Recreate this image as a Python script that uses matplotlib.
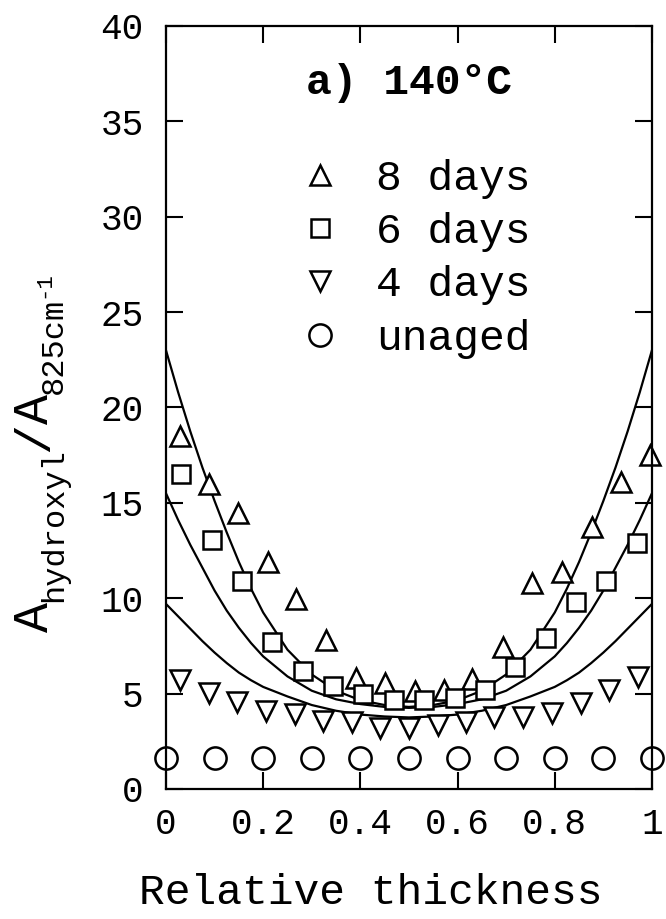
import matplotlib
matplotlib.use('Agg')  # no display
import matplotlib.pyplot as plt
from matplotlib.lines import Line2D

# measured ratio A_hydroxyl / A_825cm-1 across the relative thickness
x_8d = [0.029, 0.089, 0.149, 0.209, 0.268, 0.329, 0.391, 0.451, 0.512,
        0.572, 0.630, 0.694, 0.754, 0.814, 0.876, 0.936, 0.996]
y_8d = [18.5, 16.0, 14.45, 11.9, 9.95, 7.8, 5.8, 5.55, 5.15,
        5.2, 5.75, 7.45, 10.8, 11.35, 13.75, 16.1, 17.5]

x_6d = [0.031, 0.094, 0.156, 0.219, 0.281, 0.344, 0.406, 0.469,
        0.531, 0.594, 0.656, 0.719, 0.781, 0.844, 0.906, 0.969]
y_6d = [16.5, 13.05, 10.9, 7.7, 6.2, 5.4, 5.0, 4.65,
        4.65, 4.75, 5.2, 6.4, 7.9, 9.8, 10.9, 12.9]

x_4d = [0.029, 0.088, 0.147, 0.206, 0.265, 0.324, 0.382, 0.441, 0.500,
        0.559, 0.618, 0.676, 0.735, 0.794, 0.853, 0.912, 0.971]
y_4d = [5.7, 5.05, 4.55, 4.1, 3.95, 3.55, 3.5, 3.2, 3.2,
        3.35, 3.5, 3.75, 3.75, 4.0, 4.5, 5.2, 5.85]

x_unaged = [0.0, 0.1, 0.2, 0.3, 0.4, 0.5, 0.6, 0.7, 0.8, 0.9, 1.0]
y_unaged = [1.6, 1.6, 1.6, 1.6, 1.6, 1.6, 1.6, 1.6, 1.6, 1.6, 1.6]

# fitted profiles
x_fit = [0.0, 0.025, 0.05, 0.075, 0.1, 0.125, 0.15, 0.175, 0.2, 0.25, 0.3, 0.35, 0.4, 0.45, 0.5,
         0.55, 0.6, 0.65, 0.7, 0.75, 0.8, 0.825, 0.85, 0.875, 0.9, 0.925, 0.95, 0.975, 1.0]
fit_8d = [23.0, 20.8, 18.75, 16.85, 15.1, 13.45, 11.9, 10.5, 9.25, 7.3, 6.0, 5.15, 4.65, 4.4, 4.3,
          4.4, 4.65, 5.15, 6.0, 7.3, 9.25, 10.5, 11.9, 13.45, 15.1, 16.85, 18.75, 20.8, 23.0]
fit_6d = [15.5, 14.1, 12.8, 11.6, 10.4, 9.35, 8.45, 7.65, 6.95, 5.9, 5.15, 4.7, 4.45, 4.3, 4.25,
          4.3, 4.45, 4.7, 5.15, 5.9, 6.95, 7.65, 8.45, 9.35, 10.4, 11.6, 12.8, 14.1, 15.5]
fit_4d = [9.7, 9.05, 8.4, 7.75, 7.15, 6.6, 6.1, 5.7, 5.35, 4.85, 4.4, 4.1, 3.9, 3.8, 3.75,
          3.8, 3.9, 4.1, 4.4, 4.85, 5.35, 5.7, 6.1, 6.6, 7.15, 7.75, 8.4, 9.05, 9.7]

x_ticks = [0, 0.2, 0.4, 0.6, 0.8, 1.0]
x_ticklabels = ['0', '0.2', '0.4', '0.6', '0.8', '1']
y_ticks = [0, 5, 10, 15, 20, 25, 30, 35, 40]

# y label pieces: (text, font size, baseline shift in px, gap before in px)
ylabel_parts = [('A', 36, 0, 0), ('hydroxyl', 23, 14, 0), ('/', 36, 0, -4),
                ('A', 36, 0, -2), ('825cm', 23, 14, 0), ('-1', 16, 1, 0)]

plt.rcParams['font.family'] = ['Liberation Mono', 'DejaVu Sans Mono']
plt.rcParams['axes.linewidth'] = 1.6

W, H = 666, 919
fig = plt.figure(figsize=(W / 100, H / 100), dpi=100)
ax = fig.add_axes([0.2492, 0.1415, 0.7297, 0.8303])

for fit in (fit_8d, fit_6d, fit_4d):
    ax.plot(x_fit, fit, color='black', linewidth=1.6)

mk = dict(linestyle='none', mfc='white', mec='black', mew=1.8, clip_on=False)
ax.plot(x_8d, y_8d, marker='^', markersize=15, **mk)
ax.plot(x_6d, y_6d, marker='s', markersize=12.5, **mk)
ax.plot(x_4d, y_4d, marker='v', markersize=15, **mk)
ax.plot(x_unaged, y_unaged, marker='o', markersize=16, **mk)

ax.set_xlim(0, 1)
ax.set_ylim(0, 40)
ax.set_xticks(x_ticks)
ax.set_xticklabels(x_ticklabels)
ax.set_yticks(y_ticks)
ax.tick_params(direction='in', length=12, width=1.5, top=True, right=True,
               labelsize=26)
ax.tick_params(axis='x', pad=13)
ax.tick_params(axis='y', pad=16)

ax.text(0.5, 37.0, 'a) 140°C', ha='center', va='center', fontsize=31,
        fontweight='bold')

hkw = dict(linestyle='none', mfc='white', mec='black', mew=1.8)
handles = [Line2D([], [], marker='^', markersize=15, **hkw),
           Line2D([], [], marker='s', markersize=12.5, **hkw),
           Line2D([], [], marker='v', markersize=15, **hkw),
           Line2D([], [], marker='o', markersize=16, **hkw)]
labels = ['8 days', '6 days', '4 days', 'unaged']
ax.legend(handles, labels, loc='center left', bbox_to_anchor=(0.273, 0.695),
          frameon=False, fontsize=31, handlelength=1.0, handletextpad=0.8,
          labelspacing=0.31, borderpad=0, borderaxespad=0)

# y label built piece by piece (rotated, reading bottom to top)
renderer = fig.canvas.get_renderer()
base_x = 48   # px from left, baseline of the main letters
cur_y = 632   # px from top, where the label starts
for text, size, shift, gap in ylabel_parts:
    cur_y -= gap
    t = fig.text((base_x + shift) / W, 1 - cur_y / H, text, rotation=90,
                 rotation_mode='anchor', ha='left', va='baseline', fontsize=size)
    cur_y -= t.get_window_extent(renderer).height

fig.text(371 / W, 1 - 893 / H, 'Relative thickness',
         ha='center', va='center', fontsize=31)

fig.savefig('out.png', dpi=100)
